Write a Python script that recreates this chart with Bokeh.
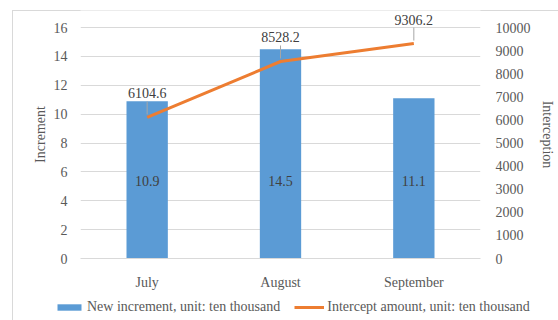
from bokeh.plotting import figure
from bokeh.models import Range1d, LinearAxis, FactorRange, Legend, LegendItem, ColumnDataSource
from bokeh.embed import file_html
from bokeh.resources import INLINE
from bokeh.core.properties import value

months = ["July", "August", "September"]
increment = [10.9, 14.5, 11.1]
intercept = [6104.6, 8528.2, 9306.2]
left_ticks = [0, 2, 4, 6, 8, 10, 12, 14, 16]
right_ticks = [0, 1000, 2000, 3000, 4000, 5000, 6000, 7000, 8000, 9000, 10000]
series_names = ["New increment, unit: ten thousand", "Intercept amount, unit: ten thousand"]

FONT = "Liberation Serif"
GRAY = "#595959"
BLUE = "#5B9BD5"
ORANGE = "#ED7D31"

Y1_TOP = 17.18
Y2_TOP = 10736
PX = Y2_TOP / 248.0  # data units of the right axis per pixel

p = figure(width=558, height=292, x_range=FactorRange(*months, range_padding=0),
           y_range=Range1d(0, Y1_TOP), output_backend="svg", toolbar_location=None,
           min_border_left=80, min_border_right=78, min_border_top=10, min_border_bottom=34,
           styles={"box-shadow": "inset 12px 10px 0 0 white, inset 13px 11px 0 0 #d9d9d9"})
p.outline_line_color = None
p.border_fill_alpha = 0
p.extra_y_ranges = {"y2": Range1d(0, Y2_TOP)}

src = ColumnDataSource(dict(m=months, inc=increment, itc=intercept,
                            inc_lbl=[f"{v:.1f}" for v in increment],
                            itc_lbl=[f"{v:.1f}" for v in intercept],
                            lbl_y=[5.4] * len(months),
                            seg0=[v + 3 * PX for v in intercept],
                            seg1=[v + 16 * PX for v in intercept],
                            txt_y=[v + 24 * PX for v in intercept]))

p.vbar(x="m", top="inc", width=0.31, source=src, fill_color=BLUE, line_color=None)
p.line(x="m", y="itc", source=src, y_range_name="y2", line_color=ORANGE, line_width=3)

p.text(x="m", y="lbl_y", text="inc_lbl", source=src, text_align="center", text_baseline="middle",
       text_font=value(FONT), text_font_size="14px", text_color="#404040")
p.segment(x0="m", y0="seg0", x1="m", y1="seg1", source=src, y_range_name="y2",
          line_color="#a6a6a6", line_width=1)
p.text(x="m", y="txt_y", text="itc_lbl", source=src, y_range_name="y2", text_align="center",
       text_baseline="middle", text_font=value(FONT), text_font_size="14px", text_color="#404040")

# axes
p.yaxis.ticker = left_ticks
p.yaxis.axis_label = "Increment"
ax2 = LinearAxis(y_range_name="y2", ticker=right_ticks, axis_label="Interception")
p.add_layout(ax2, "right")

for ax in [p.yaxis[0], ax2]:
    ax.axis_line_color = None
    ax.major_tick_line_color = None
    ax.minor_tick_line_color = None
    ax.major_label_text_font = FONT
    ax.major_label_text_font_size = "14px"
    ax.major_label_text_color = GRAY
    ax.axis_label_text_font = FONT
    ax.axis_label_text_font_size = "14px"
    ax.axis_label_text_color = GRAY
    ax.axis_label_text_font_style = "normal"
p.yaxis[0].major_label_standoff = 7
p.yaxis[0].axis_label_standoff = 3
ax2.major_label_standoff = 9
ax2.axis_label_standoff = 6

p.xaxis.axis_line_color = "#d9d9d9"
p.xaxis.major_tick_line_color = None
p.xaxis.minor_tick_line_color = None
p.xaxis.major_label_text_font = FONT
p.xaxis.major_label_text_font_size = "14px"
p.xaxis.major_label_text_color = GRAY
p.xaxis.major_label_standoff = 10

p.xgrid.grid_line_color = None
p.ygrid.grid_line_color = "#d9d9d9"
p.ygrid.ticker = left_ticks

# legend strip below the chart (separate root, so its frame is not aligned to the chart)
lf = figure(width=558, height=28, x_range=Range1d(0, 1), y_range=Range1d(0, 1),
            output_backend="svg", toolbar_location=None, min_border=0,
            styles={"box-shadow": "inset 12px 0 0 0 white, inset 13px 0 0 0 #d9d9d9"})
lf.axis.visible = False
lf.grid.grid_line_color = None
lf.outline_line_color = None
lf.border_fill_alpha = 0
lf.background_fill_alpha = 0
# swatch-only renderers, placed outside the visible range
r_bar = lf.vbar(x=[-10], top=[-10], width=0.3, fill_color=BLUE, line_color=None)
r_line = lf.line(x=[-10, -9], y=[-10, -10], line_color=ORANGE, line_width=3)

legend = Legend(items=[LegendItem(label=series_names[0], renderers=[r_bar]),
                       LegendItem(label=series_names[1], renderers=[r_line])],
                orientation="horizontal", location=(54, 5), padding=0, margin=0,
                spacing=14, glyph_width=30, glyph_height=8, label_standoff=3, label_height=16,
                label_text_font=FONT, label_text_font_size="14px", label_text_color=GRAY,
                border_line_color=None, background_fill_alpha=0)
lf.add_layout(legend, "center")

open("out.html", "w").write(file_html([p, lf], INLINE))
